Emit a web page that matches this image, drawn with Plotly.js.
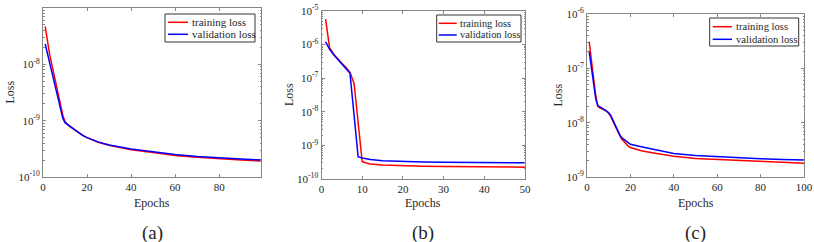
<!DOCTYPE html>
<html>
<head>
<meta charset="utf-8">
<script src="https://cdn.plot.ly/plotly-3.0.1.min.js"></script>
<style>html,body{margin:0;padding:0;background:#fff}#chart{width:814px;height:242px}</style>
</head>
<body>
<div id="chart"></div>
<script>
// ---- Panel (a) ----
const epochsA = [1,2,3,4,5,6,7,8,9,10,11,12,14,16,18,20,25,30,40,50,60,70,80,90,99];
const trainA = [4.7e-8,2.4e-8,1.5e-8,1.0e-8,6.5e-9,4.3e-9,2.8e-9,1.8e-9,1.25e-9,9.6e-10,8.7e-10,8.0e-10,7.0e-10,6.1e-10,5.5e-10,5.0e-10,4.15e-10,3.65e-10,3.05e-10,2.72e-10,2.42e-10,2.25e-10,2.1e-10,2.0e-10,1.92e-10];
const valA   = [2.3e-8,1.55e-8,1.05e-8,7.2e-9,4.9e-9,3.3e-9,2.2e-9,1.5e-9,1.1e-9,9.2e-10,8.6e-10,8.0e-10,7.0e-10,6.1e-10,5.5e-10,5.0e-10,4.2e-10,3.7e-10,3.15e-10,2.8e-10,2.5e-10,2.32e-10,2.18e-10,2.08e-10,2.0e-10];
// ---- Panel (b) ----
const epochsB = [1,2,3,4,5,6,7,8,9,10,11,12,15,20,25,30,40,50];
const trainB = [5.7e-6,8.0e-7,5.2e-7,3.7e-7,2.8e-7,2.1e-7,1.5e-7,7.0e-8,4.8e-9,3.3e-10,3.0e-10,2.8e-10,2.6e-10,2.45e-10,2.4e-10,2.35e-10,2.28e-10,2.24e-10];
const valB   = [1.2e-6,7.2e-7,5.0e-7,3.6e-7,2.7e-7,2.0e-7,1.4e-7,8.0e-9,4.6e-10,4.2e-10,4.0e-10,3.8e-10,3.5e-10,3.3e-10,3.2e-10,3.15e-10,3.1e-10,3.05e-10];
// ---- Panel (c) ----
const epochsC = [1,2,3,4,5,6,7,8,9,10,11,12,13,14,15,16,17,18,19,20,25,30,40,50,60,70,80,90,100];
const trainC = [3.1e-7,1.4e-7,6.5e-8,3.2e-8,2.0e-8,1.85e-8,1.8e-8,1.72e-8,1.62e-8,1.48e-8,1.3e-8,1.05e-8,8.5e-9,7.0e-9,5.9e-9,5.0e-9,4.5e-9,4.0e-9,3.7e-9,3.5e-9,3.05e-9,2.8e-9,2.4e-9,2.2e-9,2.1e-9,2.0e-9,1.92e-9,1.86e-9,1.8e-9];
const valC   = [2.05e-7,1.0e-7,5.2e-8,2.8e-8,2.05e-8,1.95e-8,1.85e-8,1.75e-8,1.65e-8,1.52e-8,1.35e-8,1.1e-8,8.8e-9,7.2e-9,6.1e-9,5.3e-9,4.9e-9,4.5e-9,4.2e-9,4.0e-9,3.6e-9,3.25e-9,2.7e-9,2.5e-9,2.37e-9,2.27e-9,2.17e-9,2.1e-9,2.06e-9];

const seriesNames = ['training loss','validation loss'];
const seriesColors = ['#ff0000','#0000ff'];
const xTicksA = [0,20,40,60,80];
const xTicksB = [0,10,20,30,40,50];
const xTicksC = [0,20,40,60,80,100];
const yTicksA = [-10,-9,-8];
const yTicksB = [-10,-9,-8,-7,-6,-5];
const yTicksC = [-9,-8,-7,-6];
const panelLabels = ['(a)','(b)','(c)'];
const xTitle = 'Epochs';
const yTitle = 'Loss';

const W = 814, H = 242;
const FONT = "Liberation Serif, Times New Roman, serif";
const axisGray = '#868686';
const txt = '#262626';

function px(x){return x/W;}
function py(y){return 1 - y/H;}
function supLabel(e){return '10<sup>' + e + '</sup>';}
function minorVals(lo, hi){
  const v = [];
  for(let e=lo; e<hi; e++) for(let m=2; m<10; m++) v.push(m*Math.pow(10,e));
  return v;
}

const panels = [
  {ex:epochsA, tr:trainA, va:valA, xt:xTicksA, yt:yTicksA, xr:[0,99], yr:[-10,-7], box:[43,261,8,177], lossX:9,
   leg:{box:[165,255,14,42], lx:[168,188], tx:190, rows:[22.3,34.3], fs:11}},
  {ex:epochsB, tr:trainB, va:valB, xt:xTicksB, yt:yTicksB, xr:[0,50], yr:[-10,-5], box:[321.5,525,11,179], lossX:289,
   leg:{box:[436.7,521,15,42], lx:[438.7,456.7], tx:458.3, rows:[23.3,35], fs:10.4}},
  {ex:epochsC, tr:trainC, va:valC, xt:xTicksC, yt:yTicksC, xr:[0,100], yr:[-9,-6], box:[587,804,14,177], lossX:557,
   leg:{box:[709.7,798.7,18,46], lx:[712.7,732], tx:733.7, rows:[26.7,39.3], fs:10.6}}
];

const data = [];
const layout = {
  width:W, height:H, margin:{l:0,r:0,t:0,b:0},
  paper_bgcolor:'#fff', plot_bgcolor:'#fff',
  font:{family:FONT, color:txt, size:11},
  showlegend:false,
  annotations:[], shapes:[]
};

panels.forEach((p,i)=>{
  const n = i===0 ? '' : String(i+1);
  data.push({x:p.ex, y:p.tr, type:'scatter', mode:'lines', name:seriesNames[0],
    line:{color:seriesColors[0], width:1.5}, xaxis:'x'+n, yaxis:'y'+n});
  data.push({x:p.ex, y:p.va, type:'scatter', mode:'lines', name:seriesNames[1],
    line:{color:seriesColors[1], width:1.5}, xaxis:'x'+n, yaxis:'y'+n});
  const [l,r,t,b] = p.box;
  layout['xaxis'+n] = {
    domain:[px(l),px(r)], anchor:'y'+n, range:p.xr,
    tickvals:p.xt, ticks:'inside', ticklen:3, tickcolor:axisGray,
    showline:true, linecolor:axisGray, linewidth:1, mirror:'ticks',
    showgrid:false, zeroline:false, tickfont:{size:11, color:txt, family:FONT}
  };
  layout['yaxis'+n] = {
    domain:[py(b),py(t)], anchor:'x'+n, type:'log', range:p.yr,
    tickvals:p.yt.map(e=>Math.pow(10,e)), ticktext:p.yt.map(supLabel),
    ticks:'inside', ticklen:3, tickcolor:axisGray,
    minor:{tickmode:'array', tickvals:minorVals(p.yr[0], p.yr[1]), ticks:'inside', ticklen:1.5, tickcolor:axisGray, showgrid:false},
    showline:true, linecolor:axisGray, linewidth:1, mirror:'ticks',
    showgrid:false, zeroline:false, tickfont:{size:11, color:txt, family:FONT}
  };
  layout.annotations.push({text:xTitle, xref:'paper', yref:'paper', x:px((l+r)/2), y:py(203),
    xanchor:'center', yanchor:'middle', showarrow:false, font:{size:12, color:txt, family:FONT}});
  layout.annotations.push({text:yTitle, xref:'paper', yref:'paper', x:px(p.lossX), y:py((t+b)/2),
    xanchor:'center', yanchor:'middle', textangle:-90, showarrow:false, font:{size:12, color:txt, family:FONT}});
  const g = p.leg;
  layout.shapes.push({type:'rect', xref:'paper', yref:'paper',
    x0:px(g.box[0]), x1:px(g.box[1]), y0:py(g.box[3]), y1:py(g.box[2]),
    line:{color:'#333', width:1}, fillcolor:'#fff', layer:'above'});
  seriesNames.forEach((nm,k)=>{
    layout.shapes.push({type:'line', xref:'paper', yref:'paper',
      x0:px(g.lx[0]), x1:px(g.lx[1]), y0:py(g.rows[k]), y1:py(g.rows[k]),
      line:{color:seriesColors[k], width:1.5}, layer:'above'});
    layout.annotations.push({text:nm, xref:'paper', yref:'paper',
      x:px(g.tx), y:py(g.rows[k]), xanchor:'left', yanchor:'middle', showarrow:false,
      font:{size:g.fs, color:txt, family:FONT}});
  });
  layout.annotations.push({
    text:panelLabels[i], xref:'paper', yref:'paper', x:px((l+r)/2), y:py(233),
    xanchor:'center', yanchor:'middle', showarrow:false,
    font:{size:19, color:txt, family:FONT}
  });
});

Plotly.newPlot('chart', data, layout, {staticPlot:true, displayModeBar:false});
</script>
</body>
</html>
